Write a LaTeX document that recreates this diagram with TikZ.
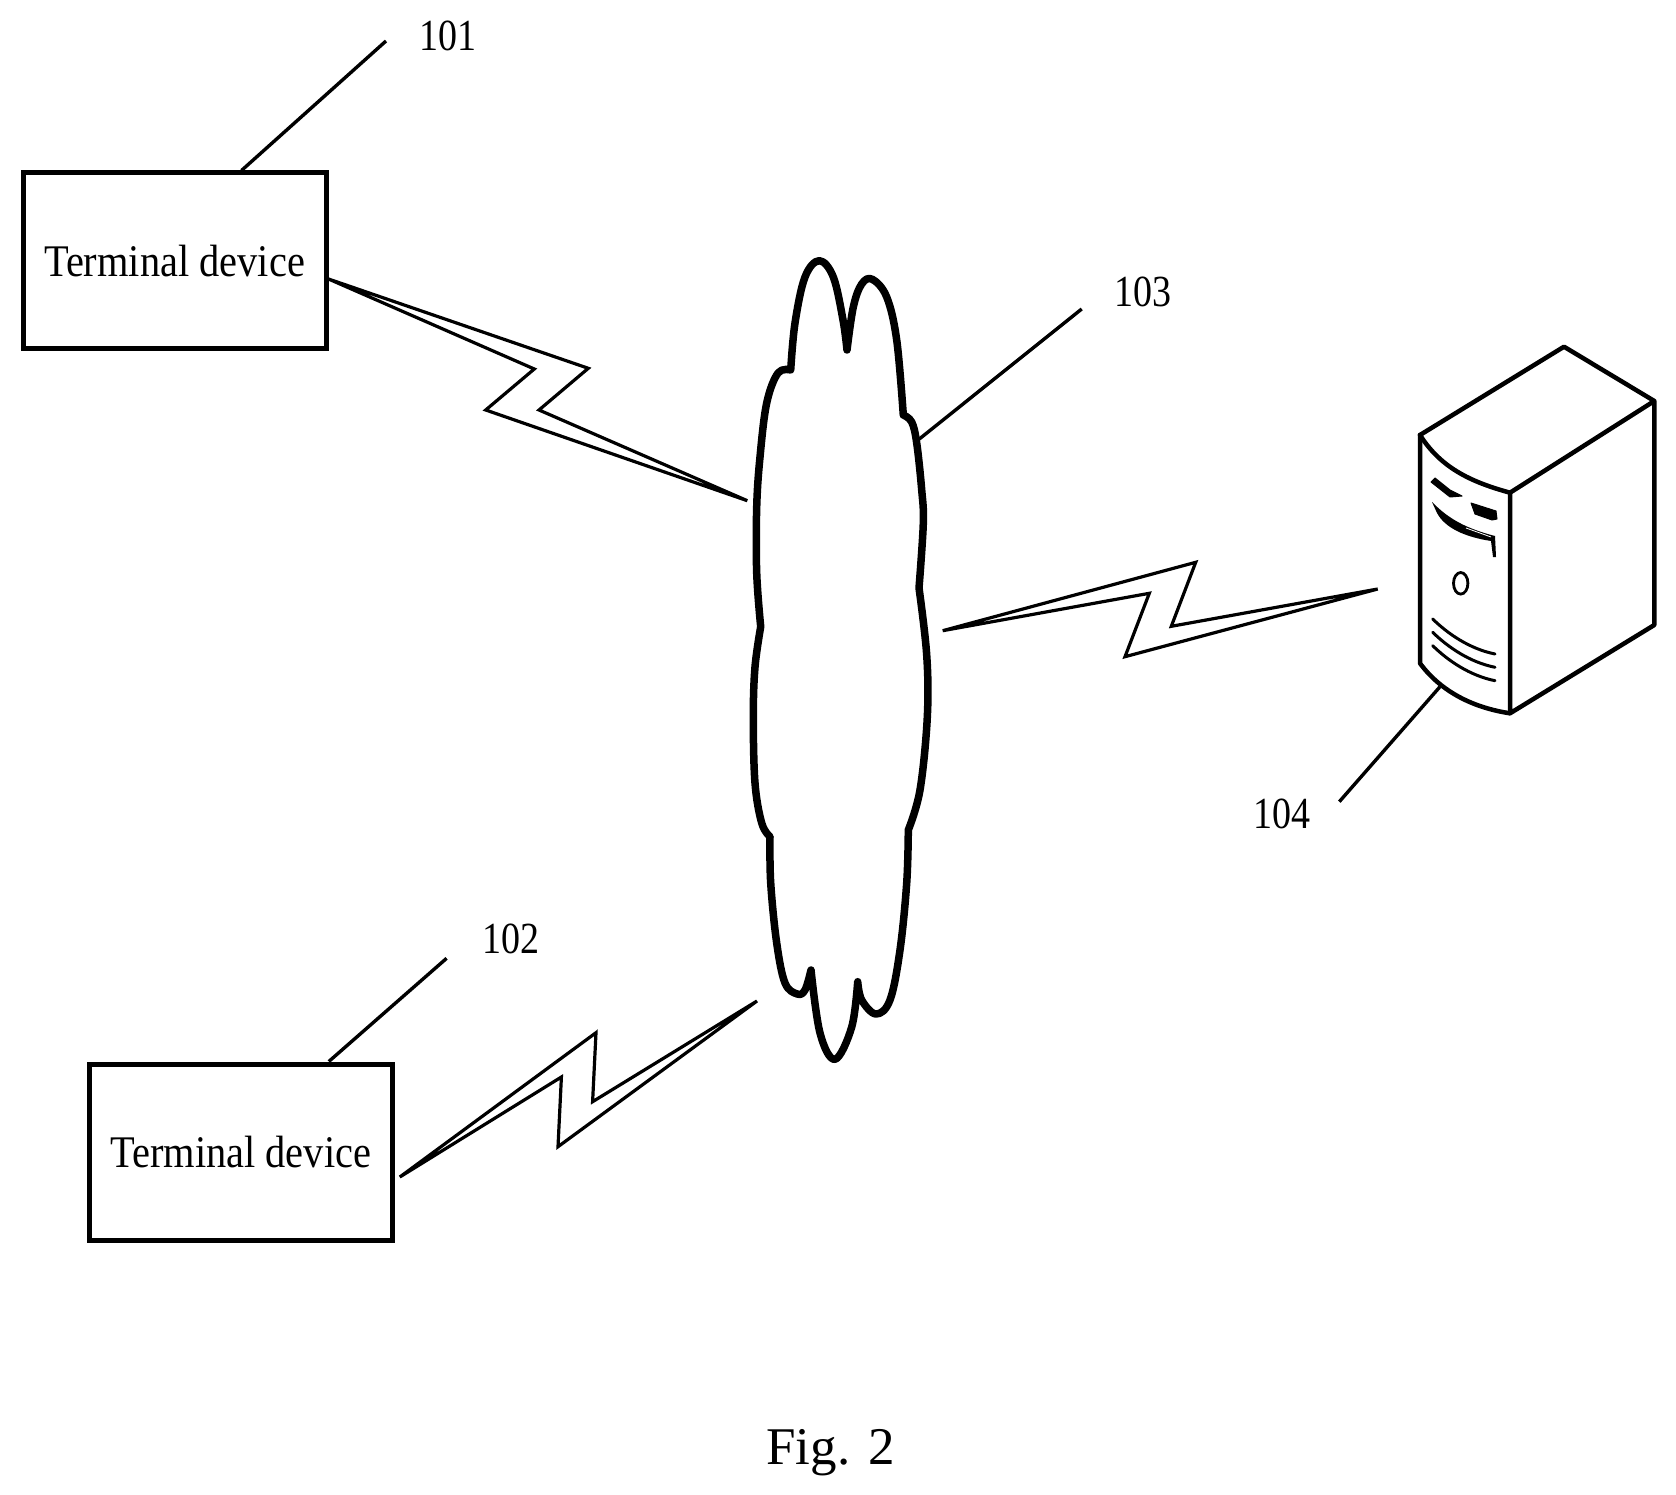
\documentclass[tikz,border=0pt]{standalone}
\usepackage{fontspec}
\setmainfont[Ligatures=TeX]{Liberation Serif}
\newcommand{\tall}[1]{\scalebox{1}[1.12]{#1}}
\newcommand{\tallnum}[1]{\scalebox{1}[1.17]{#1}}
\tikzset{
  device/.style={draw,line width=5pt,minimum width=303pt,minimum height=176pt,inner sep=0pt,font=\fontsize{40.4}{44}\selectfont},
  refnum/.style={anchor=base,inner sep=0pt,font=\fontsize{38}{42}\selectfont},
  leader/.style={line width=3.4pt},
  bolt/.style={line width=3.2pt,line join=miter},
  tower/.style={line width=4.5pt,line join=round,line cap=round},
  slot/.style={line width=3pt,line cap=round},
}

\begin{document}
\begin{tikzpicture}[x=1pt,y=-1pt]
      \useasboundingbox (0,0) rectangle (1676,1495);
      %terminals
      \node[device] (T1) at (174.5,261) {\tall{Terminal device}};
      \node[device] (T2) at (240.8,1152) {\tall{Terminal device}};
      %numbers
      \node[refnum] (N1) at (447.5,50.5) {\tallnum{101}};
      \node[refnum] (N2) at (511,953.5) {\tallnum{102}};
      \node[refnum] (N3) at (1143,306.5) {\tallnum{103}};
      \node[refnum] (N4) at (1281.5,828) {\tallnum{104}};
      \node[anchor=base,inner sep=0pt,font=\fontsize{53}{58}\selectfont] (F) at (830.5,1464) {Fig. 2};
      %cloud
      \draw[line width=7.5pt,line join=round]
        plot[smooth,tension=0.6] coordinates {(790.7,370) (795,323) (805,277) (819.3,260.7) (833.3,277) (843,320) (847,350)}
        -- plot[smooth,tension=0.6] coordinates {(847,350) (853.3,307) (861.7,284) (872.3,279.3) (886.7,297) (896.7,340) (903.3,415)}
        -- plot[smooth,tension=0.6] coordinates {(903.3,415) (911.7,422) (916.7,443) (921.7,490) (923.3,523) (919,588)}
        -- plot[smooth,tension=0.6] coordinates {(919,588) (926.7,655) (927.3,717) (920,790) (908.3,830)}
        -- plot[smooth,tension=0.6] coordinates {(908.3,830) (906.7,883) (900,950) (890,1000) (876,1014) (861.7,1000) (857.7,981.7)}
        -- plot[smooth,tension=0.6] coordinates {(857.7,981.7) (851.7,1027) (835,1059.3) (820,1033) (811,970)}
        -- plot[smooth,tension=0.6] coordinates {(811,970) (805,990) (797.3,994) (785,983) (776.7,943) (770.7,883) (770,836.7)}
        -- plot[smooth,tension=0.6] coordinates {(770,836.7) (761.7,823) (755,783) (753.3,717) (755,667) (760.7,626.7)}
        -- plot[smooth,tension=0.6] coordinates {(760.7,626.7) (756.7,573) (756.7,507) (760,457) (766.7,403) (778,373) (790.7,370)}
        -- cycle;
      %server
      \coordinate (A) at (1420,435);
      \coordinate (B) at (1564,346.7);
      \coordinate (C) at (1654.3,401);
      \coordinate (D) at (1510,492.7);
      \coordinate (E) at (1420,663.3);
      \coordinate (G) at (1510,713.3);
      \coordinate (H) at (1654.3,625);
      \draw[tower] (A)--(B)--(C)--(H)--(G)--(D)--(C);
      \draw[tower] (A) .. controls (1442,470) and (1475,483) .. (D);
      \draw[tower] (A)--(E) .. controls (1442,693) and (1475,708) .. (G);
      \fill[line join=round,draw,line width=1pt] (1431,482) -- (1435,478) -- (1450,490) -- (1462,496) -- (1450,497) -- cycle;
      \fill[line join=round,draw,line width=1pt] (1471,503) -- (1496,511) -- (1497,519) -- (1492,520) -- (1475,514) -- cycle;
      \fill (1432,502) .. controls (1445,515) and (1460,527) .. (1495,536) -- (1496,557) -- (1493,557) -- (1491,541) .. controls (1465,537) and (1445,528) .. (1437,513) -- cycle;
      \draw[white,line width=0.8pt] (1466,528) -- (1491,537);
      \draw[line width=2.8pt] (1460.7,583.3) ellipse (7.2 and 10.8);
      \foreach \y in {619,632.3,645.7}
        \draw[slot] (1432.7,\y) .. controls (1448,{\y+15}) and (1470,{\y+30}) .. (1495,{\y+35});
      %connectors
      \coordinate (P1) at (386,41);
      \coordinate (P2) at (446.6,958.3);
      \coordinate (P3) at (1081.7,309);
      \coordinate (Q3) at (919.3,439);
      \coordinate (P4) at (1339.3,801.7);
      \coordinate (Q4) at (1440,686.7);
      \draw[leader] (P1)--([xshift=67pt]T1.north);
      \draw[leader] (P2)--([xshift=88pt]T2.north);
      \draw[leader] (P3)--(Q3);
      \draw[leader] (P4)--(Q4);
      %lightning
      \coordinate (R1) at (747.3,500.7);
      \coordinate (R2) at (757,1001);
      \coordinate (R3) at (942.7,630.7);
      \coordinate (S3) at (1377.7,589);
      \draw[bolt] ([yshift=-18pt]T1.east)--(588.3,368.3)--(539,410)--(R1)--(485.7,410)--(534.3,369)--cycle;
      \draw[bolt] ([xshift=5pt,yshift=-25pt]T2.east)--(596,1032.7)--(592.6,1101.7)--(R2)--(558,1146.7)--(561.4,1077)--cycle;
      \draw[bolt] (R3)--(1195.7,562.3)--(1171.3,626.3)--(S3)--(1125,656.7)--(1149.3,593.3)--cycle;
\end{tikzpicture}
\end{document}
